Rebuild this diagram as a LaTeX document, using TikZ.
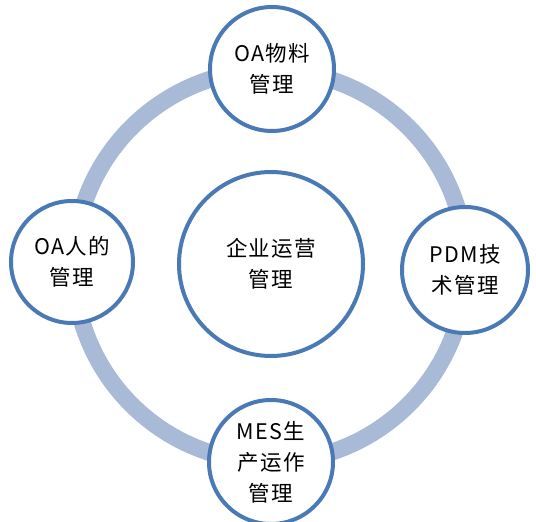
\documentclass[tikz,border=0pt]{standalone}
\usepackage{fontspec}
\setmainfont{Noto Sans CJK SC}
\newfontfamily\cjk[LetterSpace=6]{Noto Sans CJK SC}
\definecolor{ringcol}{HTML}{A9BAD6}
\definecolor{edgecol}{HTML}{4A7AB5}
\begin{document}
\begin{tikzpicture}[x=1pt,y=1pt,
  bubble/.style={circle,draw=edgecol,line width=4pt,fill=white,inner sep=0pt,
    align=center,font=\cjk\fontsize{21.5}{31}\selectfont,text=black}]
\useasboundingbox (0,0) rectangle (536,522);
\coordinate (ringc) at (270,256);
\draw[ringcol,line width=17pt] (ringc) circle[radius=196];
\node[bubble,minimum size=184pt] (center) at (271,258) {企业运营\\管理};
\node[bubble,minimum size=124pt] (top) at (272,453) {OA物料\\管理};
\node[bubble,minimum size=122pt] (left) at (72,260) {OA人的\\管理};
\node[bubble,minimum size=126pt] (right) at (465,252) {PDM技\\术管理};
\node[bubble,minimum size=124pt] (bottom) at (271,60) {MES生\\产运作\\管理};
\end{tikzpicture}
\end{document}
